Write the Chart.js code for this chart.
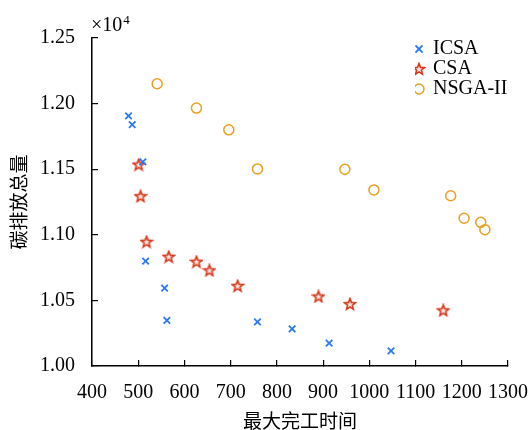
<!DOCTYPE html>
<html>
<head>
<meta charset="utf-8">
<script src="https://cdn.jsdelivr.net/npm/chart.js@4/dist/chart.umd.min.js"></script>
<style>
  html, body { margin: 0; padding: 0; background: #fff; }
  #wrap { width: 528px; height: 430px; }
</style>
</head>
<body>
<div id="wrap"><canvas id="chart"></canvas></div>
<script>
// series names
const seriesNames = ['ICSA', 'CSA', 'NSGA-II'];

// x = 最大完工时间, y = 碳排放总量
const icsaX = [479, 487, 510, 516, 557, 562, 758, 833, 913, 1047];
const icsaY = [11907, 11840, 11556, 10800, 10594, 10347, 10337, 10283, 10174, 10115];

const csaX = [501, 505, 518, 566, 626, 654, 715, 890, 958, 1160];
const csaY = [11535, 11294, 10947, 10833, 10795, 10729, 10611, 10530, 10472, 10424];

const nsgaX = [541, 626, 696, 758, 947, 1010, 1176, 1205, 1241, 1250];
const nsgaY = [12151, 11966, 11800, 11502, 11500, 11342, 11298, 11126, 11095, 11039];

const xTicks = [400, 500, 600, 700, 800, 900, 1000, 1100, 1200, 1300];
const yTicks = [10000, 10500, 11000, 11500, 12000, 12500];

const SERIF = "'Liberation Serif', 'Times New Roman', serif";
const CJK = "'Liberation Serif', 'Noto Sans CJK SC', serif";

function toPoints(xs, ys) {
    return xs.map((x, i) => ({ x: x, y: ys[i] }));
}

// hollow five-pointed star used as the CSA marker
function makeStar(color) {
    const c = document.createElement('canvas');
    c.width = 14;
    c.height = 14;
    const ctx = c.getContext('2d');
    const R = 5.8, r = 2.5;
    ctx.beginPath();
    for (let i = 0; i < 10; i++) {
        const a = -Math.PI / 2 + i * Math.PI / 5;
        const rad = i % 2 === 0 ? R : r;
        const px = 7 + rad * Math.cos(a);
        const py = 7.4 + rad * Math.sin(a);
        if (i === 0) ctx.moveTo(px, py); else ctx.lineTo(px, py);
    }
    ctx.closePath();
    ctx.fillStyle = 'rgba(245,190,175,0.35)';
    ctx.fill();
    ctx.strokeStyle = color;
    ctx.lineWidth = 1.6;
    ctx.stroke();
    return c;
}

const starImg = makeStar('#d8361a');

// put the legend in the upper right corner of the plot
const moveLegend = {
    id: 'moveLegend',
    beforeDraw(chart) {
        const lg = chart.legend;
        lg.left = 415;
        lg.top = 39;
        lg.right = lg.left + lg.width;
        lg.bottom = lg.top + lg.height;
    }
};

// "×10^4" exponent label over the y axis
const expLabel = {
    id: 'expLabel',
    afterDraw(chart) {
        const ctx = chart.ctx;
        ctx.save();
        ctx.fillStyle = '#000';
        ctx.textBaseline = 'alphabetic';
        ctx.font = '20px ' + SERIF;
        ctx.fillText('\u00d710', 91, 31);
        const w = ctx.measureText('\u00d710').width;
        ctx.font = '13px ' + SERIF;
        ctx.fillText('4', 91 + w + 1, 24);
        ctx.restore();
    }
};

new Chart(document.getElementById('chart'), {
    type: 'scatter',
    data: {
        datasets: [{
            label: seriesNames[0],
            data: toPoints(icsaX, icsaY),
            pointStyle: 'crossRot',
            pointRadius: 4.6,
            borderColor: '#2a7af2',
            backgroundColor: '#2a7af2',
            borderWidth: 1.8
        }, {
            label: seriesNames[1],
            data: toPoints(csaX, csaY),
            pointStyle: starImg,
            pointRadius: 6,
            borderColor: '#d8361a',
            backgroundColor: '#d8361a',
            borderWidth: 1.6
        }, {
            label: seriesNames[2],
            data: toPoints(nsgaX, nsgaY),
            pointStyle: 'circle',
            pointRadius: 5,
            borderColor: '#eaa020',
            backgroundColor: 'rgba(0,0,0,0)',
            borderWidth: 1.5
        }]
    },
    options: {
        responsive: true,
        maintainAspectRatio: false,
        animation: false,
        layout: { padding: { top: 38, right: 0, left: 0, bottom: 0 } },
        plugins: {
            legend: {
                position: 'chartArea',
                align: 'start',
                labels: {
                    usePointStyle: true,
                    boxWidth: 8,
                    boxHeight: 7,
                    padding: 0,
                    color: '#000',
                    font: { family: SERIF, size: 20, lineHeight: 1 }
                }
            },
            tooltip: { enabled: false }
        },
        scales: {
            x: {
                type: 'linear',
                min: 400,
                max: 1300,
                afterFit: (scale) => {
                    scale.height = 64;
                    scale.paddingLeft = 0;
                    scale.paddingRight = 20;
                },
                afterBuildTicks: (scale) => { scale.ticks = xTicks.map(v => ({ value: v })); },
                border: { color: '#000', width: 1.5 },
                grid: { drawOnChartArea: false, drawTicks: true, tickLength: -6, color: '#000', lineWidth: 1.2 },
                ticks: {
                    color: '#000',
                    padding: 21,
                    autoSkip: false,
                    minRotation: 0,
                    maxRotation: 0,
                    font: { family: SERIF, size: 20 },
                    callback: (v) => String(v)
                },
                title: {
                    display: true,
                    text: '最大完工时间',
                    color: '#000',
                    font: { family: CJK, size: 19, lineHeight: 1 },
                    padding: { top: 0, bottom: -3 }
                }
            },
            y: {
                type: 'linear',
                min: 10000,
                max: 12500,
                afterFit: (scale) => { scale.width = 92; },
                afterBuildTicks: (scale) => { scale.ticks = yTicks.map(v => ({ value: v })); },
                border: { color: '#000', width: 1.5 },
                grid: { drawOnChartArea: false, drawTicks: true, tickLength: -6, color: '#000', lineWidth: 1.2 },
                ticks: {
                    color: '#000',
                    padding: 23,
                    font: { family: SERIF, size: 20 },
                    callback: (v) => (v / 10000).toFixed(2)
                },
                title: {
                    display: true,
                    text: '碳排放总量',
                    color: '#000',
                    font: { family: CJK, size: 19, lineHeight: 1 },
                    padding: { top: 12, bottom: 0 }
                }
            }
        }
    },
    plugins: [moveLegend, expLabel]
});
</script>
</body>
</html>
